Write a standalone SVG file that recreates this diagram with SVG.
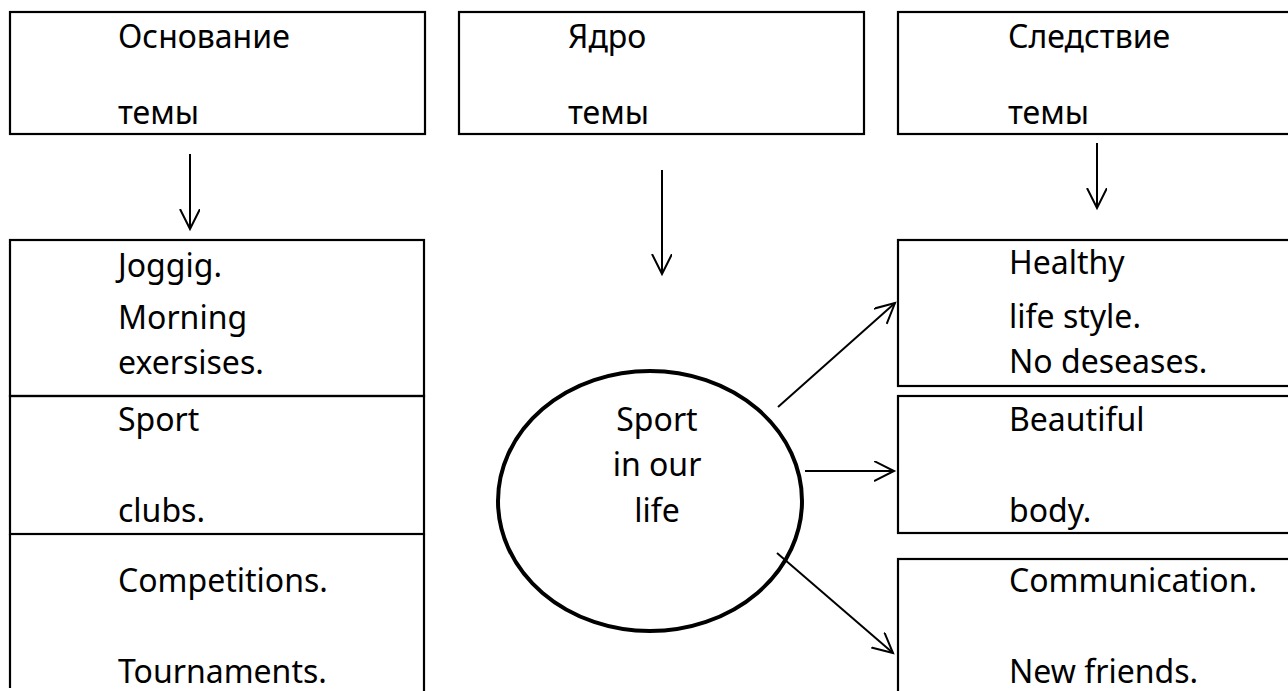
<svg xmlns="http://www.w3.org/2000/svg" width="1288" height="691" viewBox="0 0 1288 691">
<style>
.box{fill:none;stroke:#000;stroke-width:2.2}
.t{font-family:"Noto Sans","Open Sans",sans-serif;font-size:32px;fill:#000}
.c{text-anchor:middle}
.conn line{stroke:#000;stroke-width:2;fill:none}
</style>
<defs>
<marker id="ah" markerWidth="24" markerHeight="24" refX="20" refY="10" orient="auto" markerUnits="userSpaceOnUse">
<path d="M0,0 L20,10 L0,20" fill="none" stroke="#000" stroke-width="2"/>
</marker>
</defs>
<rect width="1288" height="691" fill="#fff"/>
<g id="osnovanie">
<rect class="box" x="10" y="12" width="415" height="122"/>
<text class="t" x="118" y="48">Основание</text>
<text class="t" x="118" y="124">темы</text>
</g>
<g id="yadro">
<rect class="box" x="459" y="12" width="405" height="122"/>
<text class="t" x="568" y="48">Ядро</text>
<text class="t" x="568" y="124">темы</text>
</g>
<g id="sledstvie">
<rect class="box" x="898" y="12" width="400" height="122"/>
<text class="t" x="1008" y="48">Следствие</text>
<text class="t" x="1008" y="124">темы</text>
</g>
<g id="joggig">
<rect class="box" x="10" y="240" width="414" height="156"/>
<text class="t" x="118" y="277">Joggig.</text>
<text class="t" x="118" y="329">Morning</text>
<text class="t" x="118" y="374">exersises.</text>
</g>
<g id="clubs">
<rect class="box" x="10" y="396" width="414" height="138"/>
<text class="t" x="118" y="431">Sport</text>
<text class="t" x="118" y="522">clubs.</text>
</g>
<g id="competitions">
<path class="box" d="M10,534 L424,534 M10,534 L10,688 M424,534 L424,691"/>
<text class="t" x="118" y="592">Competitions.</text>
<text class="t" x="118" y="683">Tournaments.</text>
</g>
<g id="sport">
<ellipse cx="650" cy="501" rx="152" ry="130" fill="none" stroke="#000" stroke-width="4"/>
<text class="t c" x="657" y="431">Sport</text>
<text class="t c" x="657" y="476">in our</text>
<text class="t c" x="657" y="522">life</text>
</g>
<g id="healthy">
<rect class="box" x="898" y="240" width="400" height="146"/>
<text class="t" x="1009" y="274">Healthy</text>
<text class="t" x="1009" y="328">life style.</text>
<text class="t" x="1009" y="373">No deseases.</text>
</g>
<g id="beautiful">
<rect class="box" x="898" y="396" width="400" height="137"/>
<text class="t" x="1009" y="431">Beautiful</text>
<text class="t" x="1009" y="522">body.</text>
</g>
<g id="communication">
<rect class="box" x="898" y="559" width="400" height="140"/>
<text class="t" x="1009" y="592">Communication.</text>
<text class="t" x="1009" y="683">New friends.</text>
</g>
<g class="conn" id="connectors">
<line x1="190" y1="154" x2="190" y2="229" marker-end="url(#ah)"/>
<line x1="662" y1="170" x2="662" y2="274" marker-end="url(#ah)"/>
<line x1="1097" y1="143" x2="1097" y2="208" marker-end="url(#ah)"/>
<line x1="778" y1="407" x2="895" y2="303" marker-end="url(#ah)"/>
<line x1="805" y1="471" x2="894" y2="471" marker-end="url(#ah)"/>
<line x1="777" y1="553" x2="893" y2="653" marker-end="url(#ah)"/>
</g>
</svg>
